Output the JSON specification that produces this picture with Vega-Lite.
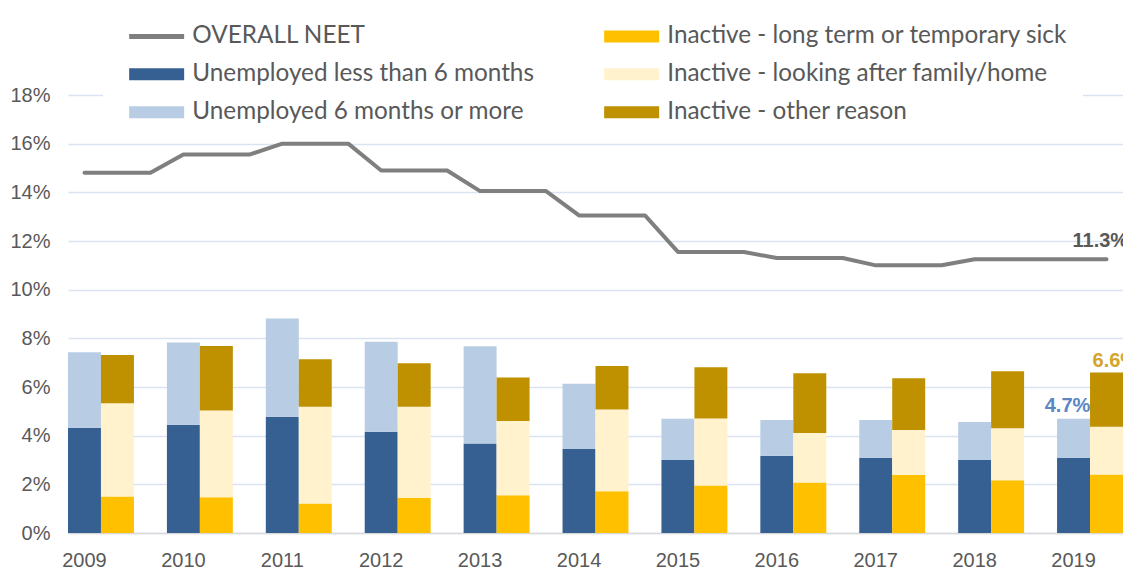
{
  "$schema": "https://vega.github.io/schema/vega-lite/v6.json",
  "width": 1055,
  "height": 438,
  "autosize": {"type": "none"},
  "padding": {"left": 68, "top": 95, "right": 0, "bottom": 37},
  "background": "white",
  "config": {
    "view": {"stroke": null},
    "axis": {"labelFont": "Liberation Sans", "labelFontSize": 20, "labelColor": "#595959", "ticks": false, "tickSize": 0, "title": null}
  },
  "datasets": {
    "bars": [
      {"slot": "2009a", "status": "Unemployed", "series": "Unemployed less than 6 months", "pct": 4.33},
      {"slot": "2009a", "status": "Unemployed", "series": "Unemployed 6 months or more", "pct": 3.1},
      {"slot": "2009b", "status": "Inactive", "series": "Inactive - long term or temporary sick", "pct": 1.5},
      {"slot": "2009b", "status": "Inactive", "series": "Inactive - looking after family/home", "pct": 3.83},
      {"slot": "2009b", "status": "Inactive", "series": "Inactive - other reason", "pct": 1.99},
      {"slot": "2010a", "status": "Unemployed", "series": "Unemployed less than 6 months", "pct": 4.45},
      {"slot": "2010a", "status": "Unemployed", "series": "Unemployed 6 months or more", "pct": 3.38},
      {"slot": "2010b", "status": "Inactive", "series": "Inactive - long term or temporary sick", "pct": 1.47},
      {"slot": "2010b", "status": "Inactive", "series": "Inactive - looking after family/home", "pct": 3.56},
      {"slot": "2010b", "status": "Inactive", "series": "Inactive - other reason", "pct": 2.65},
      {"slot": "2011a", "status": "Unemployed", "series": "Unemployed less than 6 months", "pct": 4.78},
      {"slot": "2011a", "status": "Unemployed", "series": "Unemployed 6 months or more", "pct": 4.04},
      {"slot": "2011b", "status": "Inactive", "series": "Inactive - long term or temporary sick", "pct": 1.21},
      {"slot": "2011b", "status": "Inactive", "series": "Inactive - looking after family/home", "pct": 3.98},
      {"slot": "2011b", "status": "Inactive", "series": "Inactive - other reason", "pct": 1.95},
      {"slot": "2012a", "status": "Unemployed", "series": "Unemployed less than 6 months", "pct": 4.16},
      {"slot": "2012a", "status": "Unemployed", "series": "Unemployed 6 months or more", "pct": 3.7},
      {"slot": "2012b", "status": "Inactive", "series": "Inactive - long term or temporary sick", "pct": 1.45},
      {"slot": "2012b", "status": "Inactive", "series": "Inactive - looking after family/home", "pct": 3.74},
      {"slot": "2012b", "status": "Inactive", "series": "Inactive - other reason", "pct": 1.79},
      {"slot": "2013a", "status": "Unemployed", "series": "Unemployed less than 6 months", "pct": 3.68},
      {"slot": "2013a", "status": "Unemployed", "series": "Unemployed 6 months or more", "pct": 3.99},
      {"slot": "2013b", "status": "Inactive", "series": "Inactive - long term or temporary sick", "pct": 1.55},
      {"slot": "2013b", "status": "Inactive", "series": "Inactive - looking after family/home", "pct": 3.05},
      {"slot": "2013b", "status": "Inactive", "series": "Inactive - other reason", "pct": 1.79},
      {"slot": "2014a", "status": "Unemployed", "series": "Unemployed less than 6 months", "pct": 3.45},
      {"slot": "2014a", "status": "Unemployed", "series": "Unemployed 6 months or more", "pct": 2.68},
      {"slot": "2014b", "status": "Inactive", "series": "Inactive - long term or temporary sick", "pct": 1.72},
      {"slot": "2014b", "status": "Inactive", "series": "Inactive - looking after family/home", "pct": 3.36},
      {"slot": "2014b", "status": "Inactive", "series": "Inactive - other reason", "pct": 1.78},
      {"slot": "2015a", "status": "Unemployed", "series": "Unemployed less than 6 months", "pct": 3.0},
      {"slot": "2015a", "status": "Unemployed", "series": "Unemployed 6 months or more", "pct": 1.7},
      {"slot": "2015b", "status": "Inactive", "series": "Inactive - long term or temporary sick", "pct": 1.95},
      {"slot": "2015b", "status": "Inactive", "series": "Inactive - looking after family/home", "pct": 2.76},
      {"slot": "2015b", "status": "Inactive", "series": "Inactive - other reason", "pct": 2.1},
      {"slot": "2016a", "status": "Unemployed", "series": "Unemployed less than 6 months", "pct": 3.17},
      {"slot": "2016a", "status": "Unemployed", "series": "Unemployed 6 months or more", "pct": 1.47},
      {"slot": "2016b", "status": "Inactive", "series": "Inactive - long term or temporary sick", "pct": 2.08},
      {"slot": "2016b", "status": "Inactive", "series": "Inactive - looking after family/home", "pct": 2.03},
      {"slot": "2016b", "status": "Inactive", "series": "Inactive - other reason", "pct": 2.46},
      {"slot": "2017a", "status": "Unemployed", "series": "Unemployed less than 6 months", "pct": 3.08},
      {"slot": "2017a", "status": "Unemployed", "series": "Unemployed 6 months or more", "pct": 1.56},
      {"slot": "2017b", "status": "Inactive", "series": "Inactive - long term or temporary sick", "pct": 2.38},
      {"slot": "2017b", "status": "Inactive", "series": "Inactive - looking after family/home", "pct": 1.85},
      {"slot": "2017b", "status": "Inactive", "series": "Inactive - other reason", "pct": 2.13},
      {"slot": "2018a", "status": "Unemployed", "series": "Unemployed less than 6 months", "pct": 3.0},
      {"slot": "2018a", "status": "Unemployed", "series": "Unemployed 6 months or more", "pct": 1.56},
      {"slot": "2018b", "status": "Inactive", "series": "Inactive - long term or temporary sick", "pct": 2.17},
      {"slot": "2018b", "status": "Inactive", "series": "Inactive - looking after family/home", "pct": 2.13},
      {"slot": "2018b", "status": "Inactive", "series": "Inactive - other reason", "pct": 2.35},
      {"slot": "2019a", "status": "Unemployed", "series": "Unemployed less than 6 months", "pct": 3.08},
      {"slot": "2019a", "status": "Unemployed", "series": "Unemployed 6 months or more", "pct": 1.62},
      {"slot": "2019b", "status": "Inactive", "series": "Inactive - long term or temporary sick", "pct": 2.4},
      {"slot": "2019b", "status": "Inactive", "series": "Inactive - looking after family/home", "pct": 1.97},
      {"slot": "2019b", "status": "Inactive", "series": "Inactive - other reason", "pct": 2.23}
    ],
    "neet": [
      {"slot": "2009a", "series": "OVERALL NEET", "pct": 14.8},
      {"slot": "2009b", "series": "OVERALL NEET", "pct": 14.8},
      {"slot": "2009c", "series": "OVERALL NEET", "pct": 14.8},
      {"slot": "2010a", "series": "OVERALL NEET", "pct": 15.55},
      {"slot": "2010b", "series": "OVERALL NEET", "pct": 15.55},
      {"slot": "2010c", "series": "OVERALL NEET", "pct": 15.55},
      {"slot": "2011a", "series": "OVERALL NEET", "pct": 16.0},
      {"slot": "2011b", "series": "OVERALL NEET", "pct": 16.0},
      {"slot": "2011c", "series": "OVERALL NEET", "pct": 16.0},
      {"slot": "2012a", "series": "OVERALL NEET", "pct": 14.9},
      {"slot": "2012b", "series": "OVERALL NEET", "pct": 14.9},
      {"slot": "2012c", "series": "OVERALL NEET", "pct": 14.9},
      {"slot": "2013a", "series": "OVERALL NEET", "pct": 14.05},
      {"slot": "2013b", "series": "OVERALL NEET", "pct": 14.05},
      {"slot": "2013c", "series": "OVERALL NEET", "pct": 14.05},
      {"slot": "2014a", "series": "OVERALL NEET", "pct": 13.05},
      {"slot": "2014b", "series": "OVERALL NEET", "pct": 13.05},
      {"slot": "2014c", "series": "OVERALL NEET", "pct": 13.05},
      {"slot": "2015a", "series": "OVERALL NEET", "pct": 11.55},
      {"slot": "2015b", "series": "OVERALL NEET", "pct": 11.55},
      {"slot": "2015c", "series": "OVERALL NEET", "pct": 11.55},
      {"slot": "2016a", "series": "OVERALL NEET", "pct": 11.3},
      {"slot": "2016b", "series": "OVERALL NEET", "pct": 11.3},
      {"slot": "2016c", "series": "OVERALL NEET", "pct": 11.3},
      {"slot": "2017a", "series": "OVERALL NEET", "pct": 11.0},
      {"slot": "2017b", "series": "OVERALL NEET", "pct": 11.0},
      {"slot": "2017c", "series": "OVERALL NEET", "pct": 11.0},
      {"slot": "2018a", "series": "OVERALL NEET", "pct": 11.25},
      {"slot": "2018b", "series": "OVERALL NEET", "pct": 11.25},
      {"slot": "2018c", "series": "OVERALL NEET", "pct": 11.25},
      {"slot": "2019a", "series": "OVERALL NEET", "pct": 11.25},
      {"slot": "2019b", "series": "OVERALL NEET", "pct": 11.25}
    ]
  },
  "encoding": {
    "x": {
      "field": "slot", "type": "nominal",
      "scale": {
        "domain": ["2009a","2009b","2009c","2010a","2010b","2010c","2011a","2011b","2011c","2012a","2012b","2012c","2013a","2013b","2013c","2014a","2014b","2014c","2015a","2015b","2015c","2016a","2016b","2016c","2017a","2017b","2017c","2018a","2018b","2018c","2019a","2019b"],
        "paddingInner": 0, "paddingOuter": 0
      },
      "axis": {
        "labelExpr": "slice(datum.value, -1) == 'a' ? slice(datum.value, 0, 4) : ''",
        "labelAngle": 0, "labelPadding": 17, "labelOverlap": false,
        "domainColor": "#D9D9D9", "domainWidth": 1.5, "grid": false
      }
    },
    "y": {
      "field": "pct", "type": "quantitative",
      "scale": {"domain": [0, 18], "nice": false, "zero": true},
      "axis": {
        "values": [0, 2, 4, 6, 8, 10, 12, 14, 16, 18],
        "labelExpr": "datum.value + '%'",
        "labelPadding": 18, "domain": false,
        "gridColor": "#DAE3F3", "gridWidth": 1.5
      }
    },
    "color": {
      "field": "series", "type": "nominal",
      "scale": {
        "domain": ["OVERALL NEET", "Unemployed less than 6 months", "Unemployed 6 months or more", "Inactive - long term or temporary sick", "Inactive - looking after family/home", "Inactive - other reason"],
        "range": ["#7F7F7F", "#366092", "#B8CCE4", "#FFC000", "#FFF2CC", "#BF9000"]
      },
      "legend": {
        "orient": "none", "legendX": 35, "legendY": -86,
        "direction": "vertical", "columns": 2, "columnPadding": 59, "rowPadding": 13,
        "padding": 15, "fillColor": "white", "title": null,
        "labelFont": "Lato", "labelFontSize": 24.3, "labelColor": "#595959", "labelLimit": 600,
        "labelOffset": 50, "symbolSize": 4, "symbolType": "M-1,-6H54V6H-1Z",
        "symbolStrokeWidth": 0, "symbolOpacity": 1,
        "encode": {
          "symbols": {
            "update": {
              "shape": {"signal": "datum.value === 'OVERALL NEET' ? 'M-1,-2.5H54V2.5H-1Z' : 'M-1,-6H54V6H-1Z'"},
              "fill": {"scale": "color", "field": "value"},
              "stroke": {"value": "transparent"},
              "opacity": {"value": 1}
            }
          }
        }
      }
    }
  },
  "layer": [
    {
      "data": {"name": "bars"},
      "transform": [{"filter": "datum.status === 'Unemployed'"}],
      "mark": {"type": "bar"},
      "encoding": {"order": {"field": "series", "sort": "descending"}}
    },
    {
      "data": {"name": "bars"},
      "transform": [{"filter": "datum.status === 'Inactive'"}],
      "mark": {"type": "bar"},
      "encoding": {"order": {"field": "series", "sort": "ascending"}}
    },
    {
      "data": {"name": "neet"},
      "mark": {"type": "line", "strokeWidth": 4, "strokeCap": "round", "strokeJoin": "round"},
      "encoding": {}
    },
    {
      "data": {"values": [{"slot": "2019a", "pct": 11.25, "label": "11.3%"}]},
      "mark": {"type": "text", "align": "left", "baseline": "alphabetic", "dx": -1, "dy": -12, "font": "Liberation Sans", "fontSize": 20, "fontWeight": "bold"},
      "encoding": {"text": {"field": "label"}, "color": {"value": "#595959"}}
    },
    {
      "data": {"values": [{"slot": "2019a", "pct": 4.7, "label": "4.7%"}]},
      "mark": {"type": "text", "align": "center", "baseline": "alphabetic", "dx": -6, "dy": -7, "font": "Liberation Sans", "fontSize": 20, "fontWeight": "bold"},
      "encoding": {"text": {"field": "label"}, "color": {"value": "#5A86C5"}}
    },
    {
      "data": {"values": [{"slot": "2019b", "pct": 6.6, "label": "6.6%"}]},
      "mark": {"type": "text", "align": "left", "baseline": "alphabetic", "dx": -14, "dy": -5, "font": "Liberation Sans", "fontSize": 20, "fontWeight": "bold"},
      "encoding": {"text": {"field": "label"}, "color": {"value": "#D4A52A"}}
    }
  ]
}
